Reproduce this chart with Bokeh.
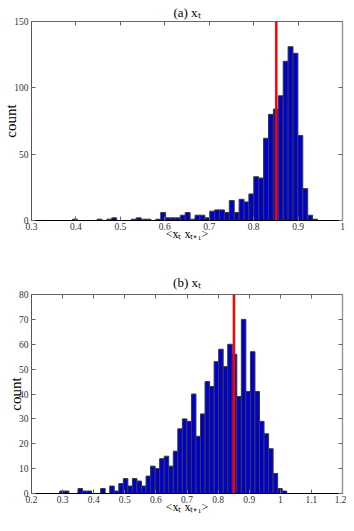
import numpy as np
from bokeh.plotting import figure
from bokeh.models import LinearAxis, FixedTicker, CustomJSTickFormatter, Span, Range1d
from bokeh.layouts import column
from bokeh.embed import file_html
from bokeh.resources import INLINE

# ---------------- data ----------------
counts_a = [1, 0, 0, 0, 0, 1, 0, 1, 2, 0,
            0, 0, 1, 2, 1, 1, 0, 1, 6, 2,
            2, 2, 4, 6, 1, 4, 4, 2, 7, 8,
            8, 6, 15, 6, 16, 14, 20, 33, 32, 62,
            80, 84, 94, 120, 131, 126, 64, 24, 4, 1]
range_a = [0.3924, 0.9437]
mean_a = 0.851

counts_b = [1, 1, 0, 0, 2, 1, 1, 0, 0, 2,
            0, 3, 1, 4, 6, 3, 6, 5, 3, 7,
            11, 10, 14, 15, 11, 17, 26, 30, 29, 40,
            23, 32, 45, 43, 53, 58, 51, 60, 56, 39,
            70, 41, 57, 41, 29, 24, 18, 8, 2, 1]
range_b = [0.291, 1.0207]
mean_b = 0.851

xticks_a = [0.3, 0.4, 0.5, 0.6, 0.7, 0.8, 0.9, 1.0]
xlim_a = [0.3, 1.0]
yticks_a = [0, 50, 100, 150]
ylim_a = [0, 150]

xticks_b = [0.2, 0.3, 0.4, 0.5, 0.6, 0.7, 0.8, 0.9, 1.0, 1.1, 1.2]
xlim_b = [0.2, 1.2]
yticks_b = [0, 10, 20, 30, 40, 50, 60, 70, 80]
ylim_b = [0, 80]

titles = ["(a) x\u209c", "(b) x\u209c"]
ylabel = "count"
xlabel = "<x\u209c x\u209c\u208a\u2081>"

FONT = "Liberation Serif"
TICK_FMT = "return (Math.round(tick*10)/10).toString();"


def make_panel(counts, rng, mean, xt, xlim, yt, ylim, title, btop, bbot, tstand):
    p = figure(frame_width=311, frame_height=199,
               x_range=Range1d(*xlim), y_range=Range1d(*ylim),
               output_backend="svg", toolbar_location=None,
               min_border_left=27, min_border_right=8,
               min_border_top=btop, min_border_bottom=bbot,
               x_axis_location=None, y_axis_location=None)
    p.outline_line_color = None
    p.xgrid.visible = False
    p.ygrid.visible = False
    p.background_fill_color = "white"
    p.border_fill_color = "white"

    p.title.text = title
    p.title.align = "center"
    p.title.text_font = FONT
    p.title.text_font_size = "13px"
    p.title.text_font_style = "normal"
    p.title.text_color = "black"
    p.title.standoff = tstand

    edges = np.linspace(rng[0], rng[1], len(counts) + 1)
    p.quad(left=edges[:-1], right=edges[1:], bottom=0, top=counts,
           fill_color="#0000cc", line_color="#3a3a3a", line_width=1)

    p.add_layout(Span(location=mean, dimension="height",
                      line_color="#ff0000", line_width=2.5))

    def style(ax, color, labels=True, width=1):
        ax.major_tick_in = 4
        ax.major_tick_out = 0
        ax.minor_tick_in = 0
        ax.minor_tick_out = 0
        ax.axis_line_color = color
        ax.axis_line_width = width
        ax.major_tick_line_color = "#666666"
        ax.major_label_text_font = FONT
        ax.major_label_text_font_size = "9.5px"
        ax.major_label_text_color = "#333333"
        ax.major_label_standoff = 3
        if labels:
            ax.formatter = CustomJSTickFormatter(code=TICK_FMT)
        else:
            ax.formatter = CustomJSTickFormatter(code="return '';")
            ax.major_label_text_font_size = "0px"
            ax.major_label_standoff = 0

    xb = LinearAxis(ticker=FixedTicker(ticks=xt))
    style(xb, "black")
    xb.major_label_standoff = 2
    xb.axis_label = xlabel
    xb.axis_label_text_font = FONT
    xb.axis_label_text_font_size = "12px"
    xb.axis_label_text_font_style = "normal"
    xb.axis_label_text_color = "black"
    xb.axis_label_standoff = -6
    p.add_layout(xb, "below")

    xa = LinearAxis(ticker=FixedTicker(ticks=xt))
    style(xa, "#666666", labels=False)
    p.add_layout(xa, "above")

    yl = LinearAxis(ticker=FixedTicker(ticks=yt))
    style(yl, "#555555")
    yl.formatter = CustomJSTickFormatter(code="return tick.toString();")
    yl.axis_label = ylabel
    yl.axis_label_text_font = FONT
    yl.axis_label_text_font_size = "15px"
    yl.axis_label_text_font_style = "normal"
    yl.axis_label_text_color = "black"
    yl.axis_label_standoff = -8
    p.add_layout(yl, "left")

    yr = LinearAxis(ticker=FixedTicker(ticks=yt))
    style(yr, "#999999", labels=False, width=1.5)
    p.add_layout(yr, "right")
    return p


p1 = make_panel(counts_a, range_a, mean_a, xticks_a, xlim_a, yticks_a, ylim_a,
                titles[0], 21, 40, 4)
p2 = make_panel(counts_b, range_b, mean_b, xticks_b, xlim_b, yticks_b, ylim_b,
                titles[1], 34, 22, 10)

layout = column(p1, p2, spacing=0)
open("out.html", "w").write(file_html(layout, INLINE))
